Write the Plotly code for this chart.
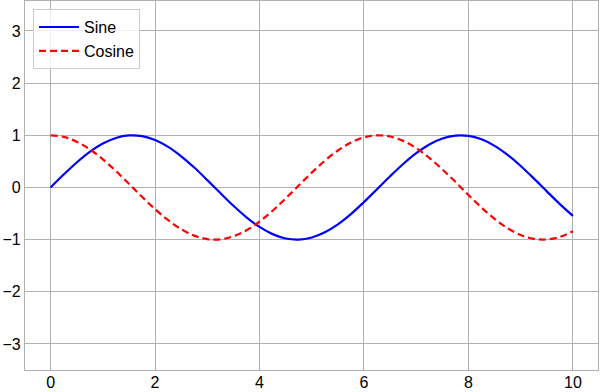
import plotly.graph_objects as go

x_vals = [0, 0.25, 0.5, 0.75, 1.0, 1.25, 1.5, 1.75, 2.0, 2.25, 2.5, 2.75, 3.0, 3.25, 3.5, 3.75,
          4.0, 4.25, 4.5, 4.75, 5.0, 5.25, 5.5, 5.75, 6.0, 6.25, 6.5, 6.75, 7.0, 7.25, 7.5, 7.75,
          8.0, 8.25, 8.5, 8.75, 9.0, 9.25, 9.5, 9.75, 10.0]
sine_vals = [0, 0.247, 0.479, 0.682, 0.841, 0.949, 0.997, 0.984, 0.909, 0.778, 0.598, 0.382,
             0.141, -0.108, -0.351, -0.572, -0.757, -0.895, -0.978, -0.999, -0.959, -0.859,
             -0.706, -0.510, -0.279, -0.033, 0.215, 0.450, 0.657, 0.824, 0.938, 0.994, 0.989,
             0.923, 0.798, 0.624, 0.412, 0.174, -0.075, -0.319, -0.544]
cosine_vals = [1, 0.969, 0.878, 0.732, 0.540, 0.315, 0.071, -0.178, -0.416, -0.628, -0.801,
               -0.924, -0.990, -0.994, -0.936, -0.821, -0.654, -0.446, -0.211, 0.038, 0.284,
               0.512, 0.709, 0.861, 0.960, 0.999, 0.977, 0.893, 0.754, 0.567, 0.347, 0.108,
               -0.146, -0.385, -0.602, -0.782, -0.911, -0.985, -0.997, -0.948, -0.839]
x_ticks = [0, 2, 4, 6, 8, 10]
y_ticks = [-3, -2, -1, 0, 1, 2, 3]

FONT = "Liberation Sans, Arial, sans-serif"

fig = go.Figure()
fig.add_trace(go.Scatter(x=x_vals, y=sine_vals, mode="lines", name="Sine",
                         line=dict(color="blue", width=2.2, shape="spline")))
fig.add_trace(go.Scatter(x=x_vals, y=cosine_vals, mode="lines", name="Cosine",
                         line=dict(color="red", width=2.2, shape="spline", dash="7px,4px")))

axis_common = dict(showgrid=True, gridcolor="#b0b0b0", gridwidth=1.3, zeroline=False,
                   showline=True, linecolor="#b0b0b0", linewidth=1.3, mirror=True,
                   ticks="", automargin=False,
                   tickfont=dict(family=FONT, size=16, color="black"))
fig.update_xaxes(range=[-0.49, 10.48], tickvals=x_ticks, ticklabelstandoff=-2, **axis_common)
fig.update_yaxes(range=[-3.50, 3.575], tickvals=y_ticks, ticklabelstandoff=0, **axis_common)

fig.update_layout(
    width=600, height=392,
    margin=dict(l=25, r=2, t=1, b=22),
    plot_bgcolor="white", paper_bgcolor="white",
    font=dict(family=FONT, size=16, color="black"),
    legend=dict(x=0.014, y=0.978, xanchor="left", yanchor="top",
                bgcolor="rgba(255,255,255,0.8)", bordercolor="#cccccc", borderwidth=1,
                font=dict(family=FONT, size=16), itemwidth=40),
    showlegend=True,
)

fig.write_html("out.html")
